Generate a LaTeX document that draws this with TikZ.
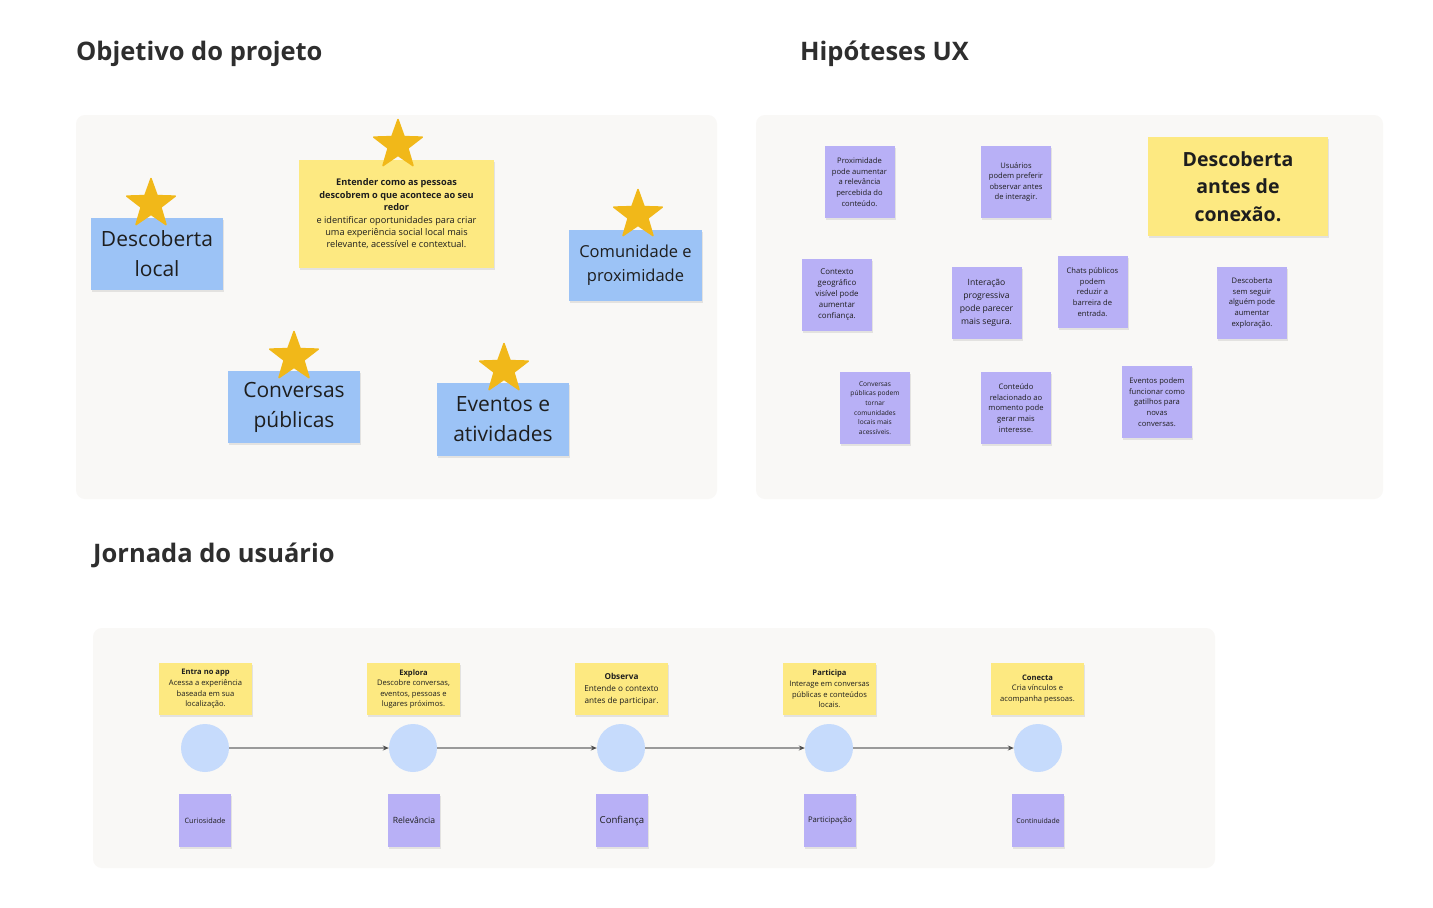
\documentclass[tikz,border=0pt]{standalone}
\usepackage{fontspec}
\setmainfont{Open Sans}
\usetikzlibrary{shapes.geometric,shadows,arrows.meta}
\definecolor{panelbg}{HTML}{F9F8F6}
\definecolor{bluenote}{HTML}{9CC3F6}
\definecolor{yellownote}{HTML}{FDE981}
\definecolor{purplenote}{HTML}{B8B0F6}
\definecolor{circlefill}{HTML}{C6DBFC}
\definecolor{starfill}{HTML}{F1B819}
\definecolor{txt}{HTML}{1E1E1E}
\definecolor{titletxt}{HTML}{2E2E2E}
\definecolor{arrowgray}{HTML}{9A9A9A}
\tikzset{
  panel/.style={fill=panelbg, draw=none, rounded corners=9pt},
  sectiontitle/.style={anchor=west, inner sep=0pt, text=titletxt, font=\fontsize{25.5}{30}\selectfont\bfseries},
  shadowed/.style={drop shadow={opacity=0.18, shadow xshift=1pt, shadow yshift=-2pt}},
  bnote/.style={rectangle, fill=bluenote, shadowed, inner sep=0pt, align=center, text=txt, minimum width=132pt, minimum height=72pt},
  ynote/.style={rectangle, fill=yellownote, shadowed, inner sep=0pt, align=center, text=txt},
  pnote/.style={rectangle, fill=purplenote, shadowed, inner sep=0pt, align=center, text=txt, minimum width=70pt, minimum height=72pt, font=\fontsize{7.6}{10.6}\selectfont},
  snote/.style={rectangle, fill=purplenote, shadowed, inner sep=0pt, align=center, text=txt, minimum width=52pt, minimum height=53pt, font=\fontsize{7.2}{9}\selectfont},
  jnote/.style={rectangle, fill=yellownote, shadowed, inner sep=0pt, align=center, text=txt, minimum width=93pt, minimum height=52pt, font=\fontsize{7.6}{10.6}\selectfont},
  starmark/.style={star, star points=5, star point ratio=2.45, fill=starfill, draw=starfill, line join=round, line width=1.5pt, minimum size=51pt, inner sep=0pt},
  stepcircle/.style={circle, fill=circlefill, minimum size=48pt, inner sep=0pt},
  flow/.style={draw=arrowgray, line width=1.1pt, -{Stealth[length=6pt,width=5pt,color=black!70]}}
}
\begin{document}
\begin{tikzpicture}[x=1pt,y=-1pt]
\useasboundingbox (0,0) rectangle (1433,908);
\fill[white] (0,0) rectangle (1433,908);

% titles
\node[sectiontitle] (t1) at (76,54) {Objetivo do projeto};
\node[sectiontitle] (t2) at (800,54) {Hipóteses UX};
\node[sectiontitle] (t3) at (93,555) {Jornada do usuário};

% panels
\path[panel] (76,115) rectangle (717,499);
\path[panel] (756,115) rectangle (1383,499);
\path[panel] (93,628) rectangle (1215,868);

% panel 1
\node[bnote, font=\fontsize{21}{30}\selectfont] (o1) at (157,254) {Descoberta\\local};
\node[ynote, minimum width=195pt, minimum height=108pt, font=\fontsize{9.2}{12.4}\selectfont] (o2) at (396.5,214)
  {\textbf{Entender como as pessoas}\\\textbf{descobrem o que acontece ao seu}\\\textbf{redor}\\e identificar oportunidades para criar\\uma experiência social local mais\\relevante, acessível e contextual.};
\node[bnote, minimum width=133pt, minimum height=71pt, font=\fontsize{16.5}{24}\selectfont] (o3) at (635.5,265.5) {Comunidade e\\proximidade};
\node[bnote, font=\fontsize{21}{30}\selectfont] (o4) at (294,407) {Conversas\\públicas};
\node[bnote, minimum height=73pt, font=\fontsize{21}{30}\selectfont] (o5) at (503,419.5) {Eventos e\\atividades};

\node[starmark] (s1) at (151,204) {};
\node[starmark] (s2) at (398,145) {};
\node[starmark] (s3) at (638,215) {};
\node[starmark] (s4) at (294,357) {};
\node[starmark] (s5) at (504,369) {};

% panel 2
\node[pnote] (h1) at (859.5,182) {Proximidade\\pode aumentar\\a relevância\\percebida do\\conteúdo.};
\node[pnote] (h2) at (1016,182) {Usuários\\podem preferir\\observar antes\\de interagir.};
\node[ynote, minimum width=180pt, minimum height=99pt, font=\fontsize{19.5}{27.5}\selectfont\bfseries] (h3) at (1238,186.5) {Descoberta\\antes de\\conexão.};
\node[pnote, font=\fontsize{7.9}{11}\selectfont] (h4) at (837,295) {Contexto\\geográfico\\visível pode\\aumentar\\confiança.};
\node[pnote, font=\fontsize{8.6}{12.8}\selectfont] (h5) at (986.5,303) {Interação\\progressiva\\pode parecer\\mais segura.};
\node[pnote] (h6) at (1092.5,292) {Chats públicos\\podem\\reduzir a\\barreira de\\entrada.};
\node[pnote] (h7) at (1252,303) {Descoberta\\sem seguir\\alguém pode\\aumentar\\exploração.};
\node[pnote, font=\fontsize{6.6}{9.7}\selectfont] (h8) at (875,408) {Conversas\\públicas podem\\tornar\\comunidades\\locais mais\\acessíveis.};
\node[pnote] (h9) at (1016,408) {Conteúdo\\relacionado ao\\momento pode\\gerar mais\\interesse.};
\node[pnote] (h10) at (1157,402) {Eventos podem\\funcionar como\\gatilhos para\\novas\\conversas.};

% panel 3: journey
\node[jnote] (j1) at (205.5,689) {\textbf{Entra no app}\\Acessa a experiência\\baseada em sua\\localização.};
\node[jnote] (j2) at (413.5,689) {\textbf{Explora}\\Descobre conversas,\\eventos, pessoas e\\lugares próximos.};
\node[jnote, font=\fontsize{8.2}{12}\selectfont] (j3) at (621.5,689) {\textbf{Observa}\\Entende o contexto\\antes de participar.};
\node[jnote] (j4) at (829.5,689) {\textbf{Participa}\\Interage em conversas\\públicas e conteúdos\\locais.};
\node[jnote] (j5) at (1037.5,689) {\textbf{Conecta}\\Cria vínculos e\\acompanha pessoas.};

\node[stepcircle] (c1) at (205,748) {};
\node[stepcircle] (c2) at (413,748) {};
\node[stepcircle] (c3) at (621,748) {};
\node[stepcircle] (c4) at (829,748) {};
\node[stepcircle] (c5) at (1038,748) {};

\draw[flow] (c1) -- (c2);
\draw[flow] (c2) -- (c3);
\draw[flow] (c3) -- (c4);
\draw[flow] (c4) -- (c5);

\node[snote, font=\fontsize{7.3}{9}\selectfont] (e1) at (205,820.5) {Curiosidade};
\node[snote, font=\fontsize{8.6}{10}\selectfont] (e2) at (414,820.5) {Relevância};
\node[snote, font=\fontsize{9.6}{11}\selectfont] (e3) at (622,820.5) {Confiança};
\node[snote, font=\fontsize{7.7}{9}\selectfont] (e4) at (830,820.5) {Participação};
\node[snote, font=\fontsize{6.9}{9}\selectfont] (e5) at (1038,820.5) {Continuidade};
\end{tikzpicture}
\end{document}
